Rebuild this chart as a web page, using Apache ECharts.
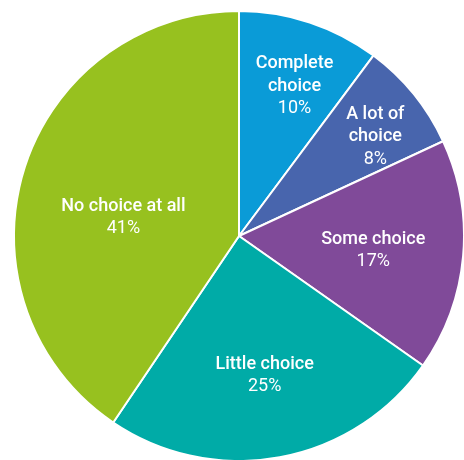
<!DOCTYPE html>
<html>
<head>
<meta charset="utf-8">
<script src="https://cdn.jsdelivr.net/npm/echarts@6/dist/echarts.min.js"></script>
<style>
  html, body { margin: 0; padding: 0; background: #ffffff; }
  #chart { width: 464px; height: 460px; }
</style>
</head>
<body>
<div id="chart"></div>
<script>
// How much choice respondents have
const categories = ['Complete choice', 'A lot of choice', 'Some choice', 'Little choice', 'No choice at all'];
const shares = [10.2, 7.9, 16.7, 24.7, 40.6];
const labelNames = ['Complete\nchoice', 'A lot of\nchoice', 'Some choice', 'Little choice', 'No choice at all'];
const colors = ['#0a9bd7', '#4865ad', '#804a99', '#00aba7', '#97c11f'];

// Label placement: fraction of the radius and angular nudge (degrees) per slice
const labelRadius = [0.71, 0.75, 0.60, 0.63, 0.52];
const labelNudge = [2, 3, 1, 0, -8];

const CX = 239, CY = 236, R = 225;

const total = shares.reduce((a, b) => a + b, 0);
const midAngles = [];
let acc = 0;
shares.forEach(v => {
  midAngles.push((acc + v / 2) / total * 360);
  acc += v;
});

const chart = echarts.init(document.getElementById('chart'), null, { renderer: 'canvas' });
chart.setOption({
  animation: false,
  color: colors,
  series: [{
    type: 'pie',
    center: [CX, CY],
    radius: [0, R],
    startAngle: 90,
    clockwise: true,
    avoidLabelOverlap: false,
    itemStyle: { borderColor: '#ffffff', borderWidth: 2 },
    label: {
      show: true,
      position: 'inside',
      formatter: p => '{n|' + labelNames[p.dataIndex].split('\n').join('}\n{n|') + '}\n{p|' + Math.round(p.percent) + '%}',
      rich: {
        n: { fontFamily: 'Roboto', fontWeight: 500, fontSize: 18, color: '#ffffff', lineHeight: 22.5, align: 'center' },
        p: { fontFamily: 'Roboto', fontWeight: 400, fontSize: 18, color: '#ffffff', lineHeight: 22.5, align: 'center' }
      }
    },
    labelLine: { show: false },
    labelLayout: params => {
      const i = params.dataIndex;
      const a = (midAngles[i] + labelNudge[i]) * Math.PI / 180;
      const r = labelRadius[i] * R;
      return {
        x: CX + r * Math.sin(a),
        y: CY - r * Math.cos(a),
        align: 'center',
        verticalAlign: 'middle'
      };
    },
    data: categories.map((c, i) => ({ name: c, value: shares[i] }))
  }]
});
</script>
</body>
</html>
